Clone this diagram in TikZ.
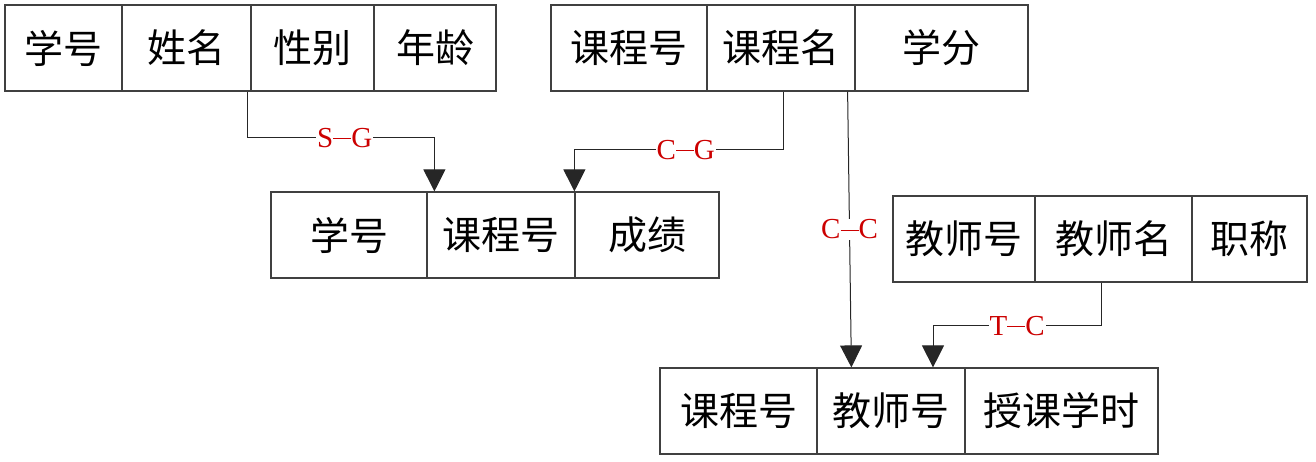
\documentclass[tikz,border=0pt]{standalone}
\usepackage{fontspec}
\setmainfont{Liberation Serif}
\newfontfamily\cjk{Noto Sans CJK SC}
\usetikzlibrary{arrows.meta}
\newcommand{\dsh}{\rule[0.27em]{0.62em}{0.055em}}
\tikzset{
  cell/.style={draw=black!75, line width=1.2pt, rectangle, inner sep=0pt,
    minimum height=86pt, font=\cjk\fontsize{39}{42}\selectfont, text=black},
  conn/.style={draw=black!85, line width=1pt},
  arr/.style={-{Triangle[length=22pt,width=22pt]}},
  lbl/.style={fill=white, text=red!80!black, inner sep=1pt,
    font=\fontsize{29}{31}\selectfont}
}
\begin{document}
\begin{tikzpicture}[x=1pt,y=-1pt]
\useasboundingbox (0,0) rectangle (1316,461);
% Student
\node[cell, minimum width=117pt] (s1) at (63.5,48) {学号};
\node[cell, minimum width=129pt] (s2) at (186.5,48) {姓名};
\node[cell, minimum width=123pt] (s3) at (312.5,48) {性别};
\node[cell, minimum width=122pt] (s4) at (435,48) {年龄};
% Course
\node[cell, minimum width=156pt] (c1) at (629,48) {课程号};
\node[cell, minimum width=148pt] (c2) at (781,48) {课程名};
\node[cell, minimum width=173pt] (c3) at (941.5,48) {学分};
% Grade
\node[cell, minimum width=156pt] (g1) at (349,235) {学号};
\node[cell, minimum width=148pt] (g2) at (501,235) {课程号};
\node[cell, minimum width=144pt] (g3) at (647,235) {成绩};
% Teacher
\node[cell, minimum width=142pt] (t1) at (964,239) {教师号};
\node[cell, minimum width=157pt] (t2) at (1113.5,239) {教师名};
\node[cell, minimum width=115pt] (t3) at (1249.5,239) {职称};
% Teaching
\node[cell, minimum width=157pt] (k1) at (738.5,411) {课程号};
\node[cell, minimum width=148pt] (k2) at (891,411) {教师号};
\node[cell, minimum width=193pt] (k3) at (1061.5,411) {授课学时};
% connectors
\draw[conn, arr] ([xshift=-4pt]s2.south east) -- ++(0,46) -| ([xshift=8pt]g2.north west)
  node[lbl, pos=0.26] {S\dsh G};
\draw[conn, arr] ([xshift=2pt]c2.south) -- ++(0,58) -| (g3.north west)
  node[lbl, pos=0.233] {C\dsh G};
\draw[conn, arr] ([xshift=-8pt]c2.south east) -- ([xshift=35pt]k2.north west)
  node[lbl, midway] {C\dsh C};
\draw[conn, arr] ([xshift=-12pt]t2.south) -- ++(0,43) -| ([xshift=42pt]k2.north)
  node[lbl, pos=0.25] {T\dsh C};
\end{tikzpicture}
\end{document}
